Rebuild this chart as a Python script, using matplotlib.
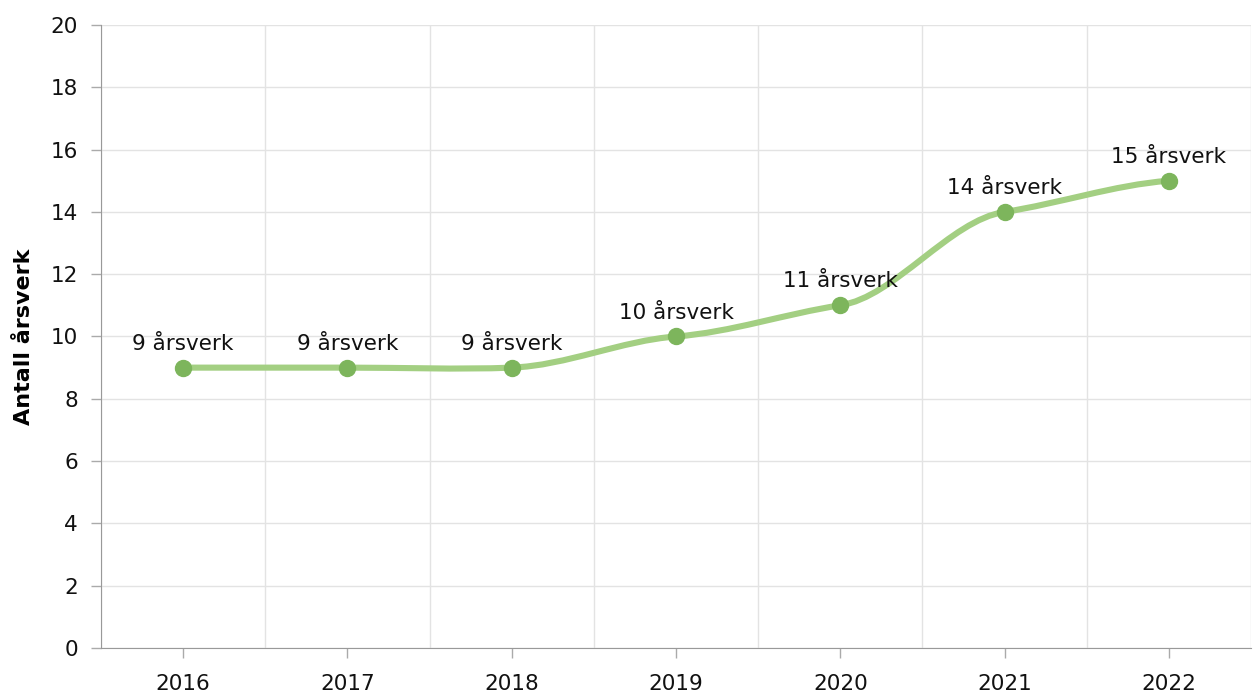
import numpy as np
import matplotlib.pyplot as plt
from matplotlib.path import Path
from matplotlib.patches import PathPatch

years = ['2016', '2017', '2018', '2019', '2020', '2021', '2022']
aarsverk = [9, 9, 9, 10, 11, 14, 15]
labels = [f'{v} årsverk' for v in aarsverk]


def smooth_path(xs, ys, k=0.4):
    # cardinal-style cubic bezier through the points, softer tangents
    n = len(xs)
    m = []
    for i in range(n):
        if i == 0:
            d = (ys[1] - ys[0]) / (xs[1] - xs[0])
        elif i == n - 1:
            d = (ys[-1] - ys[-2]) / (xs[-1] - xs[-2])
        else:
            d = (ys[i + 1] - ys[i - 1]) / (xs[i + 1] - xs[i - 1])
        m.append(k * d)
    verts = [(xs[0], ys[0])]
    codes = [Path.MOVETO]
    for i in range(1, n):
        h = (xs[i] - xs[i - 1]) / 3
        verts += [(xs[i - 1] + h, ys[i - 1] + m[i - 1] * h),
                  (xs[i] - h, ys[i] - m[i] * h),
                  (xs[i], ys[i])]
        codes += [Path.CURVE4] * 3
    return Path(verts, codes)


fig = plt.figure(figsize=(12.53, 6.96), dpi=100)
ax = fig.add_axes([0.0806, 0.069, 0.9178, 0.8951])

x = np.arange(len(years))
ax.add_patch(PathPatch(smooth_path(x, aarsverk), fill=False,
                       edgecolor='#a3cf82', lw=4.4, capstyle='round', zorder=3))
ax.plot(x, aarsverk, 'o', color='#7db55c', markersize=11.5, zorder=4)

for xi, yi, lab in zip(x, aarsverk, labels):
    ax.annotate(lab, (xi, yi), xytext=(0, 10), textcoords='offset points',
                ha='center', va='bottom', fontsize=15.5, color='#111111', zorder=5)

ax.set_xlim(-0.5, len(years) - 0.5)
ax.set_ylim(0, 20)
ax.set_yticks(range(0, 21, 2))
ax.set_xticks(x)
ax.set_xticklabels(years)
ax.set_xticks(np.arange(-0.5, len(years)), minor=True)

ax.grid(True, axis='y', color='#e3e3e3', lw=1)
ax.grid(True, axis='x', which='minor', color='#e3e3e3', lw=1)
ax.set_axisbelow(True)

for s in ['top', 'right']:
    ax.spines[s].set_visible(False)
ax.spines['left'].set_color('#999999')
ax.spines['bottom'].set_color('#999999')
ax.tick_params(axis='both', which='major', labelsize=15.5, color='#aaaaaa',
               length=7.5, width=1, labelcolor='#111111')
ax.tick_params(axis='x', which='major', pad=11)
ax.tick_params(axis='x', which='minor', length=0)
ax.tick_params(axis='y', pad=9)

ax.set_ylabel('Antall årsverk', fontsize=16, fontweight='bold', labelpad=12)

fig.savefig('out.png', dpi=100)
